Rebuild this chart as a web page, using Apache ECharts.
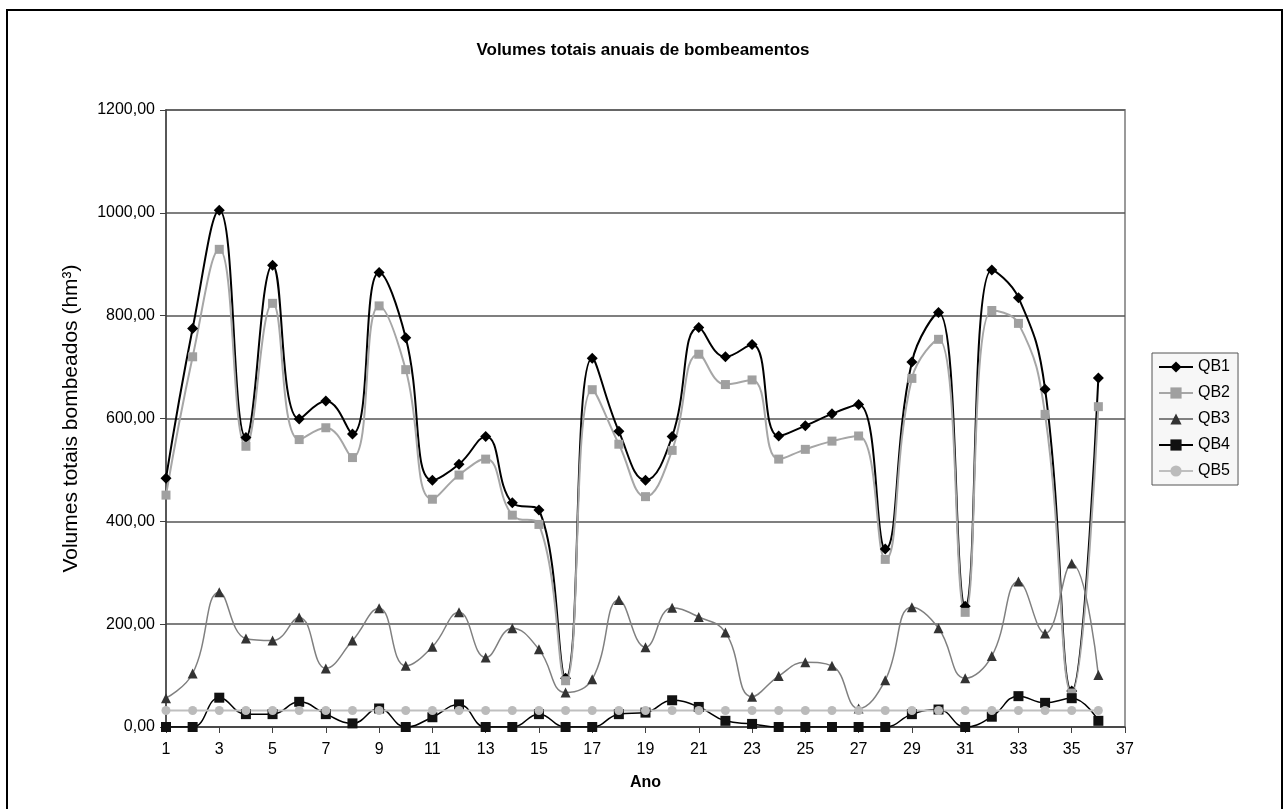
<!DOCTYPE html>
<html>
<head>
<meta charset="utf-8">
<script src="https://cdn.jsdelivr.net/npm/echarts@6/dist/echarts.min.js"></script>
<style>
html,body{margin:0;padding:0;background:#fff;}
#chart{width:1286px;height:809px;}
</style>
</head>
<body>
<div id="chart"></div>
<script>
var categories = [];
for (var i = 1; i <= 37; i++) categories.push(String(i));

var QB1 = [484, 775, 1005, 563, 898, 599, 634, 570, 884, 757, 480, 511, 565, 436, 422, 95, 717, 575, 480, 565, 777, 720, 744, 566, 586, 609, 627, 346, 710, 806, 235, 889, 835, 657, 70, 679];
var QB2 = [451, 720, 929, 546, 824, 559, 582, 524, 819, 695, 443, 490, 521, 412, 394, 90, 656, 550, 448, 538, 725, 666, 675, 521, 540, 556, 566, 326, 678, 754, 223, 810, 785, 608, 66, 623];
var QB3 = [56, 104, 262, 172, 168, 213, 114, 168, 231, 119, 156, 223, 135, 192, 151, 67, 93, 247, 155, 232, 214, 184, 59, 99, 126, 119, 36, 91, 233, 192, 95, 138, 283, 182, 318, 101];
var QB4 = [0, 0, 57, 25, 25, 49, 25, 7, 36, 0, 19, 44, 0, 0, 25, 0, 0, 25, 28, 52, 39, 12, 6, 0, 0, 0, 0, 0, 25, 34, 0, 20, 60, 47, 56, 12];
var QB5 = [32, 32, 32, 32, 32, 32, 32, 32, 32, 32, 32, 32, 32, 32, 32, 32, 32, 32, 32, 32, 32, 32, 32, 32, 32, 32, 32, 32, 32, 32, 32, 32, 32, 32, 32, 32];

var yTicks = { min: 0, max: 1200, step: 200 };
var FONT = "'Liberation Sans', Arial, sans-serif";

function mk(name, data, symbol, size, lineColor, markColor, lw) {
  return {
    name: name, type: 'line', data: data, smooth: 0.45,
    symbol: symbol, symbolSize: size, showSymbol: true,
    lineStyle: { color: lineColor, width: lw },
    itemStyle: { color: markColor, borderWidth: 0 },
    emphasis: { disabled: true }
  };
}

var chart = echarts.init(document.getElementById('chart'), null, { renderer: 'canvas' });
chart.setOption({
  animation: false,
  backgroundColor: '#ffffff',
  title: {
    text: 'Volumes totais anuais de bombeamentos',
    left: 'center', top: 37,
    textStyle: { fontFamily: FONT, fontSize: 17, fontWeight: 'bold', color: '#000' }
  },
  legend: {
    orient: 'vertical', left: 1152, top: 353,
    itemWidth: 34, itemHeight: 14, itemGap: 10,
    padding: [6, 8, 6, 6],
    backgroundColor: '#f7f7f7', borderColor: '#555', borderWidth: 1,
    textStyle: { fontFamily: FONT, fontSize: 16, color: '#000' },
    data: ['QB1', 'QB2', 'QB3', 'QB4', 'QB5']
  },
  grid: {
    left: 166, right: 161, top: 110, bottom: 82,
    show: true, borderColor: '#9a9a9a', borderWidth: 2, backgroundColor: 'transparent'
  },
  xAxis: {
    type: 'category', data: categories, boundaryGap: false,
    name: 'Ano', nameLocation: 'middle', nameGap: 48,
    nameTextStyle: { fontFamily: FONT, fontSize: 16, fontWeight: 'bold', color: '#000' },
    axisLine: { lineStyle: { color: '#404040', width: 1.5 } },
    axisTick: { show: true, interval: 1, length: 6, lineStyle: { color: '#404040' } },
    axisLabel: { interval: 1, margin: 15, fontFamily: FONT, fontSize: 16, color: '#000' },
    splitLine: { show: false }
  },
  yAxis: {
    type: 'value', min: yTicks.min, max: yTicks.max, interval: yTicks.step,
    name: 'Volumes totais bombeados (hm³)', nameLocation: 'middle', nameGap: 84, nameRotate: 90,
    nameTextStyle: { fontFamily: FONT, fontSize: 21, color: '#000' },
    axisLine: { show: true, lineStyle: { color: '#404040', width: 1.5 } },
    axisTick: { show: true, length: 6, lineStyle: { color: '#404040' } },
    axisLabel: {
      margin: 11, fontFamily: FONT, fontSize: 16, color: '#000',
      formatter: function (v) { return v.toFixed(2).replace('.', ','); }
    },
    splitLine: { show: true, lineStyle: { color: '#555', width: 1.5 } }
  },
  graphic: [{
    type: 'rect', silent: true, z: 100,
    shape: { x: 7, y: 10, width: 1275, height: 900 },
    style: { fill: 'none', stroke: '#000', lineWidth: 2 }
  }],
  series: [
    mk('QB1', QB1, 'diamond', 11, '#000000', '#000000', 2),
    mk('QB2', QB2, 'rect', 9, '#a6a6a6', '#a0a0a0', 2),
    mk('QB3', QB3, 'triangle', 10, '#808080', '#333333', 1.5),
    mk('QB4', QB4, 'rect', 10, '#000000', '#111111', 1.5),
    mk('QB5', QB5, 'circle', 9, '#bfbfbf', '#bbbbbb', 2)
  ]
});
</script>
</body>
</html>
